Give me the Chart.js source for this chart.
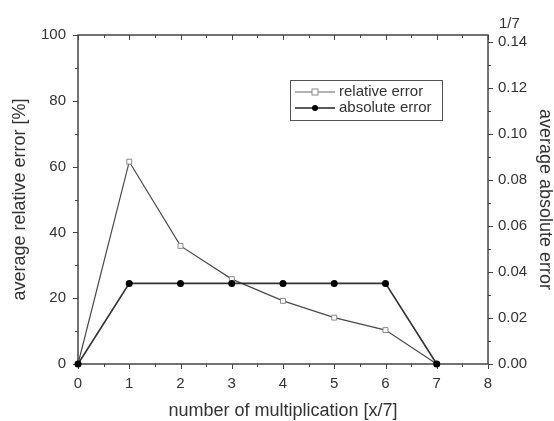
<!DOCTYPE html>
<html>
<head>
<meta charset="utf-8">
<script src="https://cdn.jsdelivr.net/npm/chart.js@4.4.1/dist/chart.umd.min.js"></script>
<style>
  html, body { margin: 0; padding: 0; background: #fff; }
</style>
</head>
<body>
<canvas id="errorChart" width="554" height="421"></canvas>
<script>
// data
const multiplications = [0, 1, 2, 3, 4, 5, 6, 7];
const relativeError = [0, 61.5, 35.9, 25.8, 19.2, 14.1, 10.3, 0];
const absoluteError = [0, 0.035, 0.035, 0.035, 0.035, 0.035, 0.035, 0];
const relativeTicks = [0, 20, 40, 60, 80, 100];
const absoluteTicks = [0, 0.02, 0.04, 0.06, 0.08, 0.10, 0.12, 0.14];
const absoluteMax = 1 / 7;
const absoluteMaxLabel = '1/7';
const seriesNames = ['relative error', 'absolute error'];

const FONT = '"Liberation Sans", Arial, sans-serif';
const INK = '#333';
const TICK_SIZE = 15;

// frame + tick marks (major/minor, Origin style)
const frameTicks = {
  id: 'frameTicks',
  beforeDatasetsDraw(chart) {
    const { ctx, chartArea: a, scales } = chart;
    ctx.save();
    ctx.strokeStyle = '#444';
    ctx.lineWidth = 1.5;
    ctx.strokeRect(a.left, a.top, a.right - a.left, a.bottom - a.top);
    ctx.lineWidth = 1;
    ctx.beginPath();
    for (let v = 0; v <= 8.001; v += 0.5) {
      const px = Math.round(scales.x.getPixelForValue(v)) + 0.5;
      const len = Number.isInteger(v) ? 5 : 3;
      ctx.moveTo(px, a.bottom); ctx.lineTo(px, a.bottom + len);
      ctx.moveTo(px, a.top); ctx.lineTo(px, a.top + len);
    }
    for (let v = 0; v <= 100; v += 10) {
      const py = Math.round(scales.y.getPixelForValue(v)) + 0.5;
      const len = v % 20 === 0 ? 5 : 3;
      ctx.moveTo(a.left, py); ctx.lineTo(a.left - len, py);
    }
    for (let i = 0; i <= 14; i++) {
      const py = Math.round(scales.y2.getPixelForValue(i / 100)) + 0.5;
      const len = i % 2 === 0 ? 5 : 3;
      ctx.moveTo(a.right, py); ctx.lineTo(a.right + len, py);
    }
    ctx.stroke();
    // extra label for the 1/7 maximum of the right axis
    ctx.fillStyle = INK;
    ctx.font = TICK_SIZE + 'px ' + FONT;
    ctx.textAlign = 'left';
    ctx.textBaseline = 'middle';
    ctx.fillText(absoluteMaxLabel, a.right + 11, scales.y2.getPixelForValue(absoluteMax) - 11);
    ctx.restore();
  }
};

// boxed legend inside the plot, top right
const boxLegend = {
  id: 'boxLegend',
  afterDraw(chart) {
    const { ctx, chartArea: a } = chart;
    const x = a.right - 198, y = a.top + 45, w = 152, h = 40;
    ctx.save();
    ctx.strokeStyle = '#555';
    ctx.lineWidth = 1;
    ctx.strokeRect(x + 0.5, y + 0.5, w, h);
    ctx.font = '15px ' + FONT;
    ctx.textBaseline = 'middle';
    ctx.textAlign = 'left';
    seriesNames.forEach((name, i) => {
      const ds = chart.data.datasets.find(d => d.label === name);
      const ry = y + 12 + i * 16;
      ctx.strokeStyle = i === 0 ? '#999' : '#222';
      ctx.lineWidth = 1.5;
      ctx.beginPath();
      ctx.moveTo(x + 5, ry); ctx.lineTo(x + 45, ry);
      ctx.stroke();
      ctx.fillStyle = ds.pointBackgroundColor;
      ctx.strokeStyle = ds.pointBorderColor;
      ctx.lineWidth = 1;
      if (ds.pointStyle === 'rect') {
        ctx.fillRect(x + 22, ry - 3, 6, 6);
        ctx.strokeRect(x + 22, ry - 3, 6, 6);
      } else {
        ctx.beginPath();
        ctx.arc(x + 25, ry, 3, 0, Math.PI * 2);
        ctx.fill();
      }
      ctx.fillStyle = INK;
      ctx.fillText(name, x + 49, ry);
    });
    ctx.restore();
  }
};

const data = {
  labels: multiplications,
  datasets: [
    {
      label: seriesNames[0],
      data: multiplications.map((m, i) => ({ x: m, y: relativeError[i] })),
      yAxisID: 'y',
      borderColor: '#4a4a4a',
      borderWidth: 1.2,
      pointStyle: 'rect',
      pointRadius: 3.5,
      pointBackgroundColor: '#fff',
      pointBorderColor: '#888',
      pointBorderWidth: 1,
      tension: 0,
      order: 1
    },
    {
      label: seriesNames[1],
      data: multiplications.map((m, i) => ({ x: m, y: absoluteError[i] })),
      yAxisID: 'y2',
      borderColor: '#333',
      borderWidth: 1.6,
      pointStyle: 'circle',
      pointRadius: 3.5,
      pointBackgroundColor: '#000',
      pointBorderColor: '#000',
      pointBorderWidth: 0,
      tension: 0,
      order: 0
    }
  ]
};

new Chart(document.getElementById('errorChart'), {
  type: 'line',
  data: data,
  plugins: [frameTicks, boxLegend],
  options: {
    responsive: false,
    animation: false,
    clip: false,
    layout: { padding: { top: 35, left: 0, right: 0, bottom: 0 } },
    plugins: {
      legend: { display: false },
      tooltip: { enabled: false }
    },
    scales: {
      x: {
        type: 'linear',
        min: 0,
        max: 8,
        grid: { display: false, drawTicks: false },
        border: { display: false },
        ticks: { stepSize: 1, padding: 11, color: INK, font: { family: FONT, size: TICK_SIZE } },
        title: {
          display: true,
          text: 'number of multiplication [x/7]',
          color: INK,
          font: { family: FONT, size: 18, lineHeight: 1 },
          padding: { top: 0, bottom: 1 }
        },
        afterFit(s) { s.height = 57; }
      },
      y: {
        position: 'left',
        min: 0,
        max: 100,
        grid: { display: false, drawTicks: false },
        border: { display: false },
        afterBuildTicks(s) { s.ticks = relativeTicks.map(v => ({ value: v })); },
        ticks: { padding: 12, color: INK, font: { family: FONT, size: TICK_SIZE } },
        title: {
          display: true,
          text: 'average relative error [%]',
          color: INK,
          font: { family: FONT, size: 18, lineHeight: 1 },
          padding: { top: 11, bottom: 0 }
        },
        afterFit(s) { s.width = 78; }
      },
      y2: {
        position: 'right',
        min: 0,
        max: absoluteMax,
        grid: { display: false, drawTicks: false },
        border: { display: false },
        afterBuildTicks(s) { s.ticks = absoluteTicks.map(v => ({ value: v })); },
        ticks: {
          padding: 10,
          color: INK,
          font: { family: FONT, size: TICK_SIZE },
          callback: v => v.toFixed(2)
        },
        title: {
          display: true,
          text: 'average absolute error',
          color: INK,
          font: { family: FONT, size: 18, lineHeight: 1 },
          padding: { top: 0, bottom: 0 }
        },
        afterFit(s) { s.width = 66; }
      }
    }
  }
});
</script>
</body>
</html>
